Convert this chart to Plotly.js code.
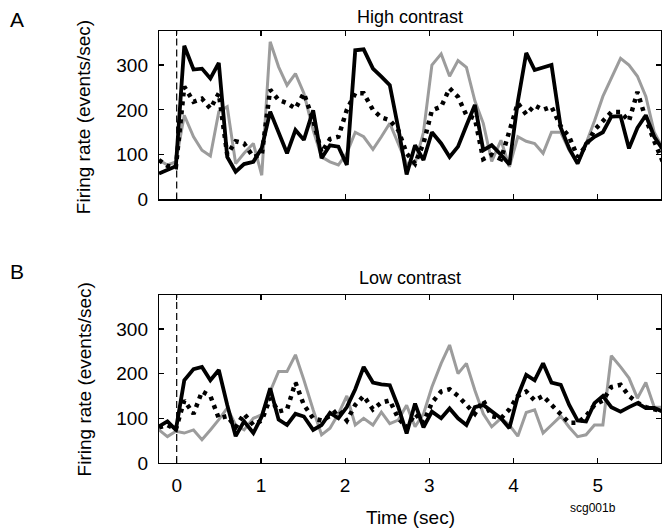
<!DOCTYPE html>
<html>
<head>
<meta charset="utf-8">
<script src="https://cdn.plot.ly/plotly-3.0.1.min.js"></script>
<style>html,body{margin:0;padding:0;background:#fff;}#chart{width:662px;height:529px;}</style>
</head>
<body>
<div id="chart"></div>
<script>
// Time of each bin (sec)
const time = [-0.21,-0.11,-0.01,0.09,0.2,0.3,0.4,0.5,0.6,0.7,
  0.8,0.91,1.01,1.11,1.21,1.31,1.41,1.51,1.62,1.72,
  1.82,1.92,2.02,2.12,2.22,2.33,2.43,2.53,2.63,2.73,
  2.83,2.93,3.03,3.14,3.24,3.34,3.44,3.54,3.64,3.74,
  3.85,3.95,4.05,4.15,4.25,4.35,4.45,4.56,4.66,4.76,
  4.86,4.96,5.06,5.16,5.27,5.37,5.47,5.57,5.67,5.77];

// Panel A: High contrast (events/sec)
const highBlack = [58,67,74,343,290,292,270,305,95,62,
  79,84,115,196,150,103,155,133,199,92,
  121,118,77,333,335,292,274,255,160,56,
  121,88,150,125,95,118,165,211,110,121,
  100,78,218,327,289,295,300,160,114,80,
  125,140,150,185,186,114,160,188,140,112];
const highGray = [88,77,84,188,140,110,97,196,207,80,
  103,125,54,352,296,255,281,237,155,95,
  84,77,103,150,140,112,140,170,125,80,
  80,150,300,325,275,310,295,220,170,85,
  132,73,140,130,125,103,150,150,110,80,
  125,175,230,270,315,300,275,230,150,115];
const highDot = [88,75,72,252,218,225,203,237,100,130,
  125,95,100,245,222,215,203,237,177,105,
  135,140,200,237,237,200,183,177,155,103,
  80,125,199,207,248,229,188,181,90,100,
  90,150,215,190,210,200,207,163,140,95,
  120,155,175,195,195,175,240,180,130,85];

// Panel B: Low contrast (events/sec)
const lowBlack = [82,93,74,185,210,215,185,208,130,60,
  93,67,104,167,97,85,110,104,74,85,
  112,100,125,165,215,180,176,174,126,66,
  133,80,115,100,122,100,85,125,130,115,
  100,78,150,197,185,223,180,175,130,95,
  93,134,150,125,115,125,134,123,123,115];
const lowGray = [74,59,71,67,74,52,74,97,123,85,
  74,100,108,160,205,205,242,186,119,63,
  78,110,150,85,100,85,114,88,96,129,
  81,110,170,223,264,200,223,163,110,81,
  100,85,60,113,119,67,85,105,80,59,
  63,85,85,240,215,190,145,180,125,125];
const lowDot = [80,85,75,140,110,160,150,100,105,80,
  110,85,95,145,115,120,180,130,100,95,
  105,120,95,130,150,120,135,140,100,80,
  110,90,135,160,165,150,130,110,140,105,
  100,120,150,160,140,150,130,110,90,90,
  105,130,140,170,175,150,135,125,120,115];

const xTicks = [0,1,2,3,4,5];
const yTicks = [0,100,200,300];
const panelTitles = ['High contrast','Low contrast'];
const panelLetters = ['A','B'];
const yTitle = 'Firing rate (events/sec)';
const xTitle = 'Time (sec)';
const tag = 'scg001b';

const FONT = 'Liberation Sans, Arial, Helvetica, sans-serif';
const GRAY = '#9c9c9c';

function series(y, xa, ya, kind) {
  const line = kind === 'gray' ? {color: GRAY, width: 3}
    : kind === 'black' ? {color: '#000', width: 3.8}
    : {color: '#000', width: 4.5, dash: '4px,5px'};
  return {x: time, y: y, xaxis: xa, yaxis: ya, type: 'scatter', mode: 'lines',
    line: line, hoverinfo: 'skip', showlegend: false};
}

const data = [
  series(highGray, 'x', 'y', 'gray'),
  series(highBlack, 'x', 'y', 'black'),
  series(highDot, 'x', 'y', 'dot'),
  series(lowGray, 'x2', 'y2', 'gray'),
  series(lowBlack, 'x2', 'y2', 'black'),
  series(lowDot, 'x2', 'y2', 'dot')
];

const xCommon = {range: [-0.21, 5.75], tickvals: xTicks, ticks: 'inside', ticklen: 5,
  tickwidth: 1.2, tickcolor: '#000', showline: true, linecolor: '#000', linewidth: 1.2,
  mirror: 'ticks', showgrid: false, zeroline: false,
  tickfont: {family: FONT, size: 19, color: '#000'}};
const yCommon = {range: [0, 376], tickvals: yTicks, ticks: 'inside', ticklen: 5,
  tickwidth: 1.2, tickcolor: '#000', showline: true, linecolor: '#000', linewidth: 1.2,
  mirror: 'ticks', showgrid: false, zeroline: false, ticklabelstandoff: 6,
  tickfont: {family: FONT, size: 19, color: '#000'}};

function ann(text, x, y, size, extra) {
  return Object.assign({text: text, xref: 'paper', yref: 'paper', x: x, y: y,
    xanchor: 'center', yanchor: 'middle', showarrow: false,
    font: {family: FONT, size: size, color: '#000'}}, extra || {});
}

const layout = {
  width: 662, height: 529,
  margin: {l: 159, r: 1, t: 31, b: 66},
  paper_bgcolor: '#fff', plot_bgcolor: '#fff',
  showlegend: false,
  xaxis: Object.assign({}, xCommon, {anchor: 'y', domain: [0, 1], showticklabels: false}),
  yaxis: Object.assign({}, yCommon, {anchor: 'x', domain: [0.61, 1]}),
  xaxis2: Object.assign({}, xCommon, {anchor: 'y2', domain: [0, 1], ticklabelstandoff: 5}),
  yaxis2: Object.assign({}, yCommon, {anchor: 'x2', domain: [0, 0.389]}),
  shapes: [
    {type: 'line', xref: 'x', yref: 'y domain', x0: 0, x1: 0, y0: 0, y1: 1,
      line: {color: '#000', width: 1.2, dash: '7px,4px'}},
    {type: 'line', xref: 'x2', yref: 'y2 domain', x0: 0, x1: 0, y0: 0, y1: 1,
      line: {color: '#000', width: 1.2, dash: '7px,4px'}}
  ],
  annotations: [
    ann(panelLetters[0], -0.283, 1.027, 21),
    ann(panelLetters[1], -0.283, 0.444, 21),
    ann(panelTitles[0], 0.5, 1.032, 18),
    ann(panelTitles[1], 0.5, 0.428, 18),
    ann(yTitle, -0.149, 0.801, 19, {textangle: -90}),
    ann(yTitle, -0.149, 0.194, 19, {textangle: -90}),
    ann(xTitle, 0.5, -0.125, 19),
    ann(tag, 0.865, -0.104, 12)
  ]
};

Plotly.newPlot('chart', data, layout, {staticPlot: true, displayModeBar: false});
</script>
</body>
</html>
